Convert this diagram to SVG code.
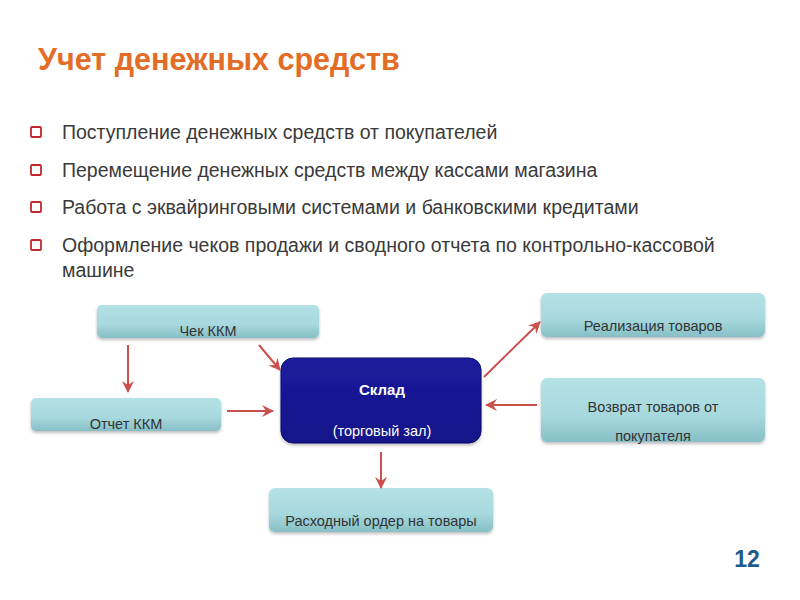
<svg xmlns="http://www.w3.org/2000/svg" width="800" height="600" viewBox="0 0 800 600">
<defs>
<linearGradient id="teal" x1="0" y1="0" x2="0" y2="1">
<stop offset="0" stop-color="#b4e2e6"/>
<stop offset="0.6" stop-color="#a6d8dd"/>
<stop offset="1" stop-color="#86bfc6"/>
</linearGradient>
<linearGradient id="navy" x1="0" y1="0" x2="0" y2="1">
<stop offset="0" stop-color="#1c1c9c"/>
<stop offset="1" stop-color="#13138a"/>
</linearGradient>
<filter id="sh" x="-10%" y="-20%" width="120%" height="150%">
<feDropShadow dx="0" dy="2" stdDeviation="1.5" flood-color="#000" flood-opacity="0.25"/>
</filter>
<marker id="ah" viewBox="0 0 12 12" refX="11" refY="6" markerWidth="12" markerHeight="12" markerUnits="userSpaceOnUse" orient="auto">
<path d="M0,0 L12,6 L0,12 L4,6 Z" fill="#c9504c"/>
</marker>
</defs>
<style>
.bul{font-family:"Liberation Sans",Arial,sans-serif;font-size:19.5px;fill:#3a3a3a}
.box{fill:url(#teal);filter:url(#sh)}
.lbl{font-family:"Liberation Sans",Arial,sans-serif;font-size:14.5px;fill:#333;text-anchor:middle}
.wl{font-family:"Liberation Sans",Arial,sans-serif;fill:#fff;text-anchor:middle}
.sq{fill:#fff;stroke:#c0282c;stroke-width:1.8}
.con line{stroke:#c9504c;stroke-width:2;marker-end:url(#ah)}
</style>
<rect width="800" height="600" fill="#fff"/>
<text x="38" y="70" font-family="Liberation Sans,Arial,sans-serif" font-size="30.5" font-weight="bold" fill="#e36c26">Учет денежных средств</text>
<g id="bullets">
<rect class="sq" x="31" y="127" width="10" height="10" rx="1"/>
<text class="bul" x="62" y="139">Поступление денежных средств от покупателей</text>
<rect class="sq" x="31" y="165" width="10" height="10" rx="1"/>
<text class="bul" x="62" y="177">Перемещение денежных средств между кассами магазина</text>
<rect class="sq" x="31" y="202" width="10" height="10" rx="1"/>
<text class="bul" x="62" y="214">Работа с эквайринговыми системами и банковскими кредитами</text>
<rect class="sq" x="31" y="240" width="10" height="10" rx="1"/>
<text class="bul" x="62" y="252">Оформление чеков продажи и сводного отчета по контрольно-кассовой</text>
<text class="bul" x="62" y="277">машине</text>
</g>
<g id="chek">
<rect class="box" x="97" y="305" width="222" height="33" rx="5"/>
<text class="lbl" x="208" y="336">Чек ККМ</text>
</g>
<g id="otchet">
<rect class="box" x="31" y="398" width="190" height="33" rx="5"/>
<text class="lbl" x="126" y="429">Отчет ККМ</text>
</g>
<g id="sklad">
<rect x="281" y="358" width="200" height="85" rx="12" fill="url(#navy)" stroke="#0c0c6a" stroke-width="1" filter="url(#sh)"/>
<text class="wl" x="382" y="395" font-size="15" font-weight="bold">Склад</text>
<text class="wl" x="382" y="436" font-size="14.5">(торговый зал)</text>
</g>
<g id="realiz">
<rect class="box" x="541" y="293" width="224" height="44" rx="6"/>
<text class="lbl" x="653" y="331">Реализация товаров</text>
</g>
<g id="vozvrat">
<rect class="box" x="541" y="378" width="224" height="64" rx="6"/>
<text class="lbl" x="653" y="412">Возврат  товаров от</text>
<text class="lbl" x="653" y="441">покупателя</text>
</g>
<g id="rashod">
<rect class="box" x="269" y="488" width="224" height="44" rx="6"/>
<text class="lbl" x="381" y="526">Расходный ордер на товары</text>
</g>
<g id="connectors" class="con">
<line x1="128" y1="345" x2="128" y2="392"/>
<line x1="259" y1="345" x2="280" y2="370"/>
<line x1="227" y1="411" x2="273" y2="411"/>
<line x1="484" y1="377" x2="540" y2="322"/>
<line x1="537" y1="405" x2="486" y2="405"/>
<line x1="381" y1="452" x2="381" y2="488"/>
</g>
<text x="747" y="567" font-family="Liberation Sans,Arial,sans-serif" font-size="23" font-weight="bold" fill="#1f5a8c" text-anchor="middle">12</text>
</svg>
